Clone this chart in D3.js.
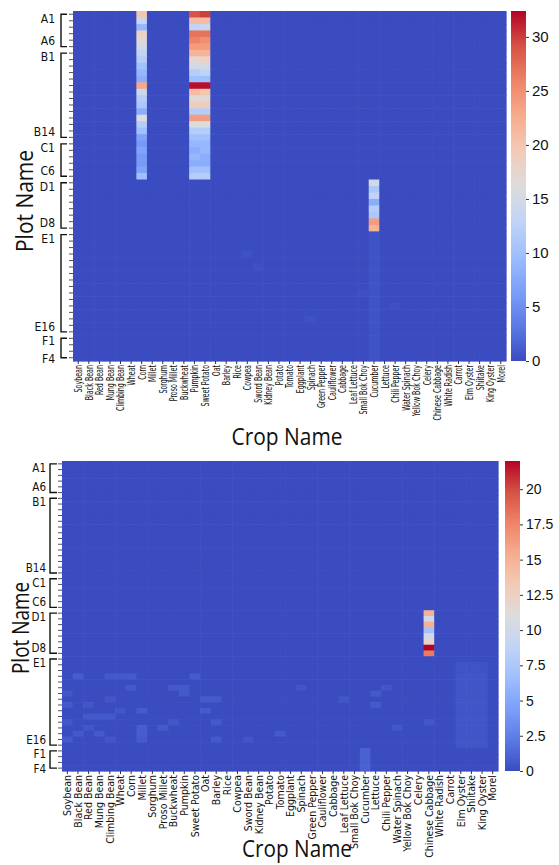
<!DOCTYPE html>
<html>
<head>
<meta charset="utf-8">
<script src="https://cdn.jsdelivr.net/npm/d3@7"></script>
<style>
body { margin: 0; background: #fff; }
svg text { font-family: "Liberation Sans Narrow", "DejaVu Sans Condensed", "Liberation Sans", sans-serif; fill: #111; }
svg text.title { font-family: "Open Sans", "Liberation Sans", sans-serif; }
</style>
</head>
<body>
<script>
var width = 559,
    height = 865;

var crops = ["Soybean", "Black Bean", "Red Bean", "Mung Bean", "Climbing Bean", "Wheat", "Corn", "Millet",
  "Sorghum", "Proso Millet", "Buckwheat", "Pumpkin", "Sweet Potato", "Oat", "Barley", "Rice", "Cowpea",
  "Sword Bean", "Kidney Bean", "Potato", "Tomato", "Eggplant", "Spinach", "Green Pepper", "Cauliflower",
  "Cabbage", "Leaf Lettuce", "Small Bok Choy", "Cucumber", "Lettuce", "Chili Pepper", "Water Spinach",
  "Yellow Bok Choy", "Celery", "Chinese Cabbage", "White Radish", "Carrot", "Elm Oyster", "Shiitake",
  "King Oyster", "Morel"];

var plotGroups = ["A", "B", "C", "D", "E", "F"];
var plotGroupSizes = [6, 14, 6, 8, 16, 4];

// top panel: columns with values, one value per plot from the start plot down
var topCorn = [20, 14, 9, 18, 17, 15, 13, 12, 10, 9, 8, 23, 14, 12, 11, 8, 16, 12, 10, 7, 6, 7, 6, 6, 7, 10];
var topPumpkin = [29, 21, 13, 27, 26, 24, 22, 17, 15, 12, 10, 32, 21, 17, 19, 12, 24, 16, 12, 10, 9, 8, 9, 8, 10, 12];
var topSweetPotato = [30, 21, 14, 27, 25, 24, 22, 18, 15, 13, 10, 32, 20, 17, 19, 12, 24, 16, 12, 10, 9, 9, 8, 8, 10, 12];
var topCucumber = [15, 11, 13, 8, 12, 11, 24, 22];

var topFaint = [
  ["E4", "Cowpea", 0.4], ["E6", "Sword Bean", 0.35], ["E10", "Small Bok Choy", 0.3],
  ["E14", "Spinach", 0.4], ["E12", "Chili Pepper", 0.3]
];
var topBlocks = [["E1", "F4", ["Cucumber"], 0.5]];

// bottom panel
var bottomCabbage = [15, 10, 15, 7, 10, 12, 22, 18];

var bottomFaint = [
  ["E4", "Black Bean", 0.8], ["E4", "Climbing Bean", 0.6], ["E4", "Wheat", 0.6], ["E4", "Corn", 0.7],
  ["E4", "Sweet Potato", 0.7], ["E6", "Corn", 0.6], ["E6", "Buckwheat", 0.6], ["E6", "Pumpkin", 0.6],
  ["E7", "Pumpkin", 0.6], ["E7", "Soybean", 0.5], ["E8", "Climbing Bean", 0.5], ["E8", "Oat", 0.7],
  ["E8", "Barley", 0.7], ["E9", "Soybean", 0.6], ["E9", "Red Bean", 0.5], ["E10", "Wheat", 0.5],
  ["E10", "Millet", 0.7], ["E10", "Oat", 0.7], ["E11", "Red Bean", 0.6], ["E11", "Mung Bean", 0.6],
  ["E11", "Climbing Bean", 0.6], ["E12", "Soybean", 0.5], ["E12", "Buckwheat", 0.5], ["E12", "Barley", 0.6],
  ["E13", "Red Bean", 0.5], ["E13", "Millet", 0.8], ["E13", "Proso Millet", 0.6], ["E14", "Millet", 0.8],
  ["E14", "Black Bean", 0.6], ["E14", "Mung Bean", 0.6], ["E14", "Tomato", 0.6], ["E15", "Millet", 0.7],
  ["E15", "Soybean", 0.7], ["E15", "Climbing Bean", 0.5], ["E15", "Barley", 0.6], ["E15", "Sword Bean", 0.5],
  ["E6", "Spinach", 0.5], ["E8", "Leaf Lettuce", 0.5], ["E7", "Lettuce", 0.6], ["E9", "Lettuce", 0.6],
  ["E6", "Chili Pepper", 0.5], ["E13", "Water Spinach", 0.5], ["E12", "Chinese Cabbage", 0.5]
];
var bottomBlocks = [
  ["E2", "E3", ["Elm Oyster", "Shiitake", "King Oyster"], 0.35],
  ["E4", "E16", ["Elm Oyster", "Shiitake", "King Oyster"], 0.45],
  ["F1", "F4", ["Cucumber"], 1.0]
];

var topTicks = [0, 5, 10, 15, 20, 25, 30];
var bottomTicks = [0, 2.5, 5, 7.5, 10, 12.5, 15, 17.5, 20];

// matplotlib coolwarm
var coolwarm = ["#3b4cc0", "#5b7ae5", "#7b9ff9", "#9ebeff", "#c0d4f5", "#dddcdc",
  "#f2cbb7", "#f7ac8e", "#ee8468", "#d65244", "#b40426"];

var plots = [];
plotGroups.forEach(function(g, i) {
  for (var k = 1; k <= plotGroupSizes[i]; k++) plots.push(g + k);
});

function buildMatrix(stripes, blocks, faint) {
  var m = plots.map(function() { return crops.map(function() { return 0; }); });
  blocks.forEach(function(b) {
    var r0 = plots.indexOf(b[0]), r1 = plots.indexOf(b[1]);
    for (var r = r0; r <= r1; r++) {
      b[2].forEach(function(c) { m[r][crops.indexOf(c)] = b[3]; });
    }
  });
  stripes.forEach(function(s) {
    var r0 = plots.indexOf(s.start), c = crops.indexOf(s.crop);
    s.values.forEach(function(v, i) { m[r0 + i][c] = v; });
  });
  faint.forEach(function(f) { m[plots.indexOf(f[0])][crops.indexOf(f[1])] = f[2]; });
  return m;
}

var topMatrix = buildMatrix([
  {crop: "Corn", start: "A1", values: topCorn},
  {crop: "Pumpkin", start: "A1", values: topPumpkin},
  {crop: "Sweet Potato", start: "A1", values: topSweetPotato},
  {crop: "Cucumber", start: "D1", values: topCucumber}
], topBlocks, topFaint);

var bottomMatrix = buildMatrix([
  {crop: "Chinese Cabbage", start: "D1", values: bottomCabbage}
], bottomBlocks, bottomFaint);

var svg = d3.select("body").append("svg")
    .attr("width", width)
    .attr("height", height);

function drawPanel(cfg, matrix) {
  var g = svg.append("g").attr("class", "panel");

  var x = d3.scaleBand().domain(crops).range([cfg.left, cfg.right]);
  var y = d3.scaleBand().domain(plots).range([cfg.top, cfg.bottom]);
  var color = d3.scaleSequential(d3.piecewise(d3.interpolateRgb, coolwarm)).domain([0, cfg.vmax]);

  var cells = [];
  matrix.forEach(function(row, r) {
    row.forEach(function(v, c) { cells.push({plot: plots[r], crop: crops[c], value: v}); });
  });

  g.append("g").selectAll("rect")
    .data(cells)
    .enter().append("rect")
    .attr("x", d => x(d.crop))
    .attr("y", d => y(d.plot))
    .attr("width", x.bandwidth() + 0.6)
    .attr("height", y.bandwidth() + 0.6)
    .attr("fill", d => color(d.value));

  // x ticks + rotated crop labels
  g.append("g")
    .attr("transform", "translate(0," + cfg.bottom + ")")
    .call(d3.axisBottom(x).tickSize(3).tickFormat(""))
    .call(a => a.select(".domain").remove())
    .selectAll("line").attr("stroke", "#333");

  g.append("g").selectAll("text")
    .data(crops)
    .enter().append("text")
    .attr("transform", d => "translate(" + (x(d) + x.bandwidth() / 2 + cfg.xFont * 0.36) + "," + (cfg.bottom + 4) + ")" +
      " scale(1," + cfg.xStretch + ") rotate(-90)")
    .attr("text-anchor", "end")
    .style("font-size", cfg.xFont + "px")
    .text(d => d);

  // y row ticks
  g.append("g")
    .attr("transform", "translate(" + cfg.left + ",0)")
    .call(d3.axisLeft(y).tickSize(4).tickFormat(""))
    .call(a => a.select(".domain").remove())
    .selectAll("line").attr("stroke", "#555");

  // group brackets; first label hangs below its arm, last label sits above it
  var start = 0;
  plotGroups.forEach(function(grp, i) {
    var n = plotGroupSizes[i];
    var first = plots[start], last = plots[start + n - 1];
    var y0 = y(first) + y.bandwidth() / 2, y1 = y(last) + y.bandwidth() / 2;
    g.append("path")
      .attr("d", "M" + cfg.armX + "," + y0 + "H" + cfg.bracketX + "V" + y1 + "H" + cfg.armX)
      .attr("fill", "none")
      .attr("stroke", "#111")
      .attr("stroke-width", 1.4);
    [[first, y0 + (n > 4 ? 4 : 2.5)], [last, n > 4 ? y1 - 5.5 : y1 + 0.5]].forEach(function(p) {
      g.append("text")
        .attr("x", cfg.labelX)
        .attr("y", p[1])
        .attr("dy", "0.36em")
        .attr("text-anchor", "end")
        .style("font-size", cfg.yFont + "px")
        .text(p[0]);
    });
    start += n;
  });

  // colorbar
  var gradId = "grad" + cfg.id;
  var grad = svg.append("defs").append("linearGradient")
    .attr("id", gradId)
    .attr("x1", 0).attr("y1", 1).attr("x2", 0).attr("y2", 0);
  d3.range(0, 1.0001, 0.02).forEach(function(t) {
    grad.append("stop").attr("offset", t).attr("stop-color", color(t * cfg.vmax));
  });
  g.append("rect")
    .attr("x", cfg.cbX)
    .attr("y", cfg.top)
    .attr("width", cfg.cbW)
    .attr("height", cfg.bottom - cfg.top)
    .attr("fill", "url(#" + gradId + ")");

  var cb = d3.scaleLinear().domain([0, cfg.vmax]).range([cfg.bottom, cfg.top]);
  var cbAxis = g.append("g")
    .attr("transform", "translate(" + (cfg.cbX + cfg.cbW) + ",0)")
    .call(d3.axisRight(cb).tickValues(cfg.ticks).tickSize(3).tickPadding(3).tickFormat(d3.format("~g")))
    .call(a => a.select(".domain").remove());
  cbAxis.selectAll("line").attr("stroke", "#333");
  cbAxis.selectAll("text")
    .style("font-size", cfg.cbFont + "px")
    .style("font-family", "\"Liberation Sans\", sans-serif");

  // axis titles
  g.append("text")
    .attr("class", "title")
    .attr("x", cfg.xTitle[0])
    .attr("y", cfg.xTitle[1])
    .attr("text-anchor", "middle")
    .attr("textLength", cfg.xTitle[2])
    .attr("lengthAdjust", "spacingAndGlyphs")
    .style("font-size", cfg.titleFont + "px")
    .text("Crop Name");

  g.append("text")
    .attr("class", "title")
    .attr("transform", "translate(" + cfg.yTitle[0] + "," + cfg.yTitle[1] + ") rotate(-90)")
    .attr("text-anchor", "middle")
    .attr("textLength", cfg.yTitle[2])
    .attr("lengthAdjust", "spacingAndGlyphs")
    .style("font-size", cfg.titleFont + "px")
    .text("Plot Name");
}

drawPanel({
  id: "top", left: 73, right: 506, top: 11, bottom: 361, vmax: 32.4,
  cbX: 511, cbW: 15, ticks: topTicks, cbFont: 15,
  xFont: 11, xStretch: 0.64, yFont: 12,
  labelX: 55, bracketX: 61, armX: 67,
  titleFont: 24, xTitle: [287, 445, 111], yTitle: [33, 201, 102]
}, topMatrix);

drawPanel({
  id: "bottom", left: 62, right: 498, top: 461, bottom: 771, vmax: 22,
  cbX: 505, cbW: 15, ticks: bottomTicks, cbFont: 14,
  xFont: 10.5, xStretch: 1, yFont: 11.5,
  labelX: 46, bracketX: 50, armX: 57,
  titleFont: 24, xTitle: [297, 857, 110], yTitle: [29, 628, 92]
}, bottomMatrix);
</script>
</body>
</html>
